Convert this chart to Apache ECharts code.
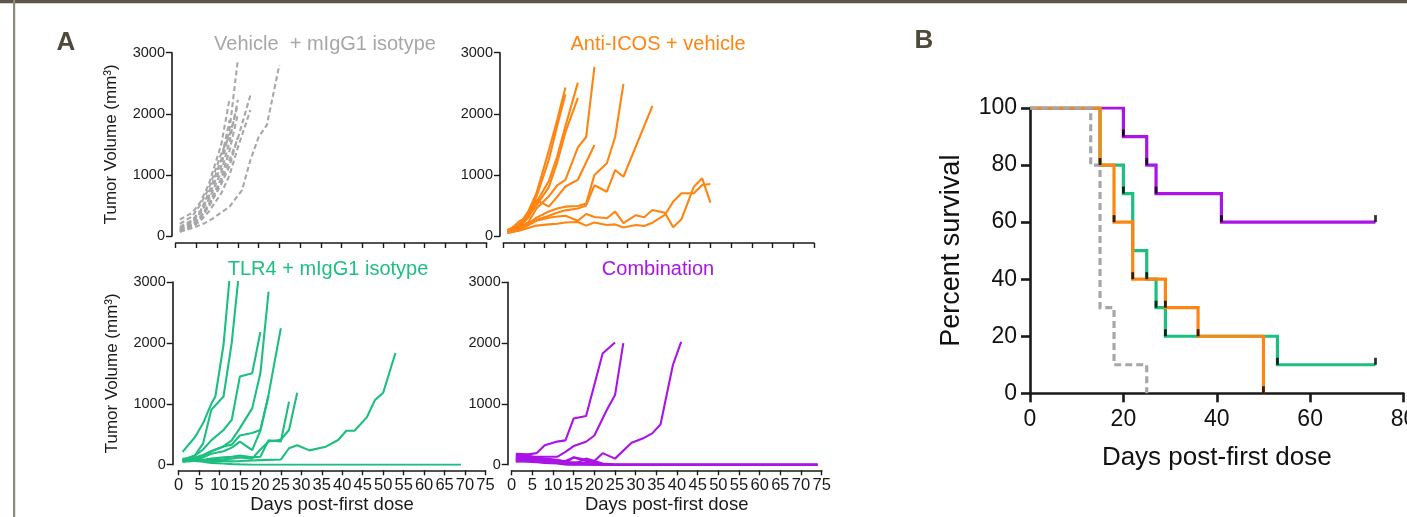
<!DOCTYPE html>
<html><head><meta charset="utf-8">
<script src="https://cdn.jsdelivr.net/npm/echarts@6/dist/echarts.min.js"></script>
<style>html,body{margin:0;padding:0;background:#fff;}#c{width:1407px;height:517px;}</style>
</head><body><div id="c"></div>
<script>
const FONT = 'Liberation Sans, Arial, Helvetica, sans-serif';
const panelTitles = ['Vehicle  + mIgG1 isotype', 'Anti-ICOS + vehicle', 'TLR4 + mIgG1 isotype', 'Combination'];
const groupColors = ['#a7a7a9', '#ff8512', '#1cbf80', '#aa14e6'];
const growthYName = 'Tumor Volume (mm³)';
const growthXName = 'Days post-first dose';
const survYName = 'Percent survival';
const survXName = 'Days post-first dose';

// Tumour growth per mouse: [day, volume mm3]
const vehicleCurves = [
  [[1,150],[4,260],[6,420],[8,650],[11,1150],[13,1750],[15,2890]],
  [[1,110],[4,220],[6,380],[8,600],[11,1050],[13,1550],[15,2230]],
  [[1,270],[4,380],[6,560],[8,850],[11,1500],[13,2250]],
  [[1,90],[4,190],[6,320],[8,520],[11,950],[13,1400],[15,2000]],
  [[1,130],[4,240],[6,400],[8,720],[11,1250],[13,1900]],
  [[1,70],[4,160],[6,290],[8,480],[11,850],[13,1150],[15,1620]],
  [[1,200],[4,320],[6,520],[8,780],[11,1350],[13,1650],[15,2150]],
  [[1,100],[4,180],[6,310],[8,500],[11,900],[13,1250],[15,1600],[18,2300]],
  [[1,80],[4,150],[6,250],[8,400],[11,700],[13,1000],[15,1450],[18,2060]],
  [[1,70],[4,130],[7,210],[9,290],[13,480],[16,750],[18,1240],[20,1620],[22,1820],[25,2800]]
];
const icosCurves = [
  [[1,80],[4,200],[6,400],[8,700],[11,1400],[13,1900],[15,2430]],
  [[1,100],[4,180],[6,350],[8,640],[11,1250],[13,1800],[15,2320]],
  [[1,70],[4,150],[6,300],[8,550],[11,900],[13,1300],[15,1800],[18,2510]],
  [[1,90],[4,200],[6,320],[8,500],[11,800],[13,1200],[15,1700],[18,2260]],
  [[1,80],[4,150],[6,220],[8,450],[11,650],[13,830],[15,920],[18,1450],[20,1620],[22,2770]],
  [[1,60],[4,250],[6,300],[8,590],[11,480],[13,640],[15,810],[18,920],[22,1490]],
  [[1,60],[4,120],[6,200],[8,300],[11,400],[13,450],[15,480],[18,490],[20,530],[22,1000],[25,1190],[27,1620],[29,2490]],
  [[1,50],[4,100],[6,180],[8,260],[11,330],[13,380],[15,420],[18,450],[20,500],[22,830],[25,725],[27,1080],[29,970],[36,2130]],
  [[1,60],[4,120],[6,180],[8,250],[11,300],[13,320],[15,330],[18,250],[20,360],[22,310],[25,290],[27,400],[29,210],[32,340],[34,306],[36,425],[39,380],[41,142],[43,273],[46,807],[48,944],[50,545]],
  [[1,50],[4,90],[6,130],[8,170],[11,190],[13,200],[15,220],[18,230],[20,170],[22,220],[25,180],[27,190],[29,140],[32,180],[34,163],[36,218],[39,344],[41,561],[43,699],[46,699],[48,835],[50,851]]
];
const tlr4Curves = [
  [[1,210],[4,450],[6,680],[8,1000],[9,1120],[11,1970],[13,3450]],
  [[1,60],[4,150],[6,350],[8,900],[11,1120],[13,2000],[15,3300]],
  [[1,80],[4,150],[6,250],[8,400],[11,570],[13,735],[15,1450],[18,1500],[20,2180]],
  [[1,60],[4,100],[6,150],[8,220],[11,300],[13,400],[15,600],[18,925],[20,1500],[22,2840]],
  [[1,50],[4,80],[6,120],[8,180],[11,220],[13,280],[15,380],[18,240],[20,560],[22,1150],[25,2240]],
  [[1,90],[4,120],[6,160],[8,220],[11,300],[13,330],[15,480],[18,520],[20,570],[22,1130]],
  [[1,60],[4,70],[6,80],[8,100],[11,120],[13,130],[15,150],[18,120],[20,130],[22,400],[25,380],[27,1035]],
  [[1,50],[4,60],[6,70],[8,80],[11,90],[13,100],[15,120],[18,100],[20,250],[22,380],[25,410],[27,570],[29,1180]],
  [[1,100],[4,80],[6,70],[8,60],[11,60],[13,55],[15,60],[18,70],[20,75],[22,80],[25,85],[27,270],[29,320],[32,235],[36,296],[39,405],[41,558],[43,558],[46,777],[48,1062],[50,1182],[53,1835]],
  [[1,80],[4,60],[6,50],[8,30],[11,20],[13,10],[15,5],[18,0],[20,0],[25,0],[30,0],[40,0],[50,0],[60,0],[69,0]]
];
const comboCurves = [
  [[1,180],[4,170],[6,190],[8,320],[11,380],[13,400],[15,760],[18,800],[22,1830],[25,2010]],
  [[1,130],[4,130],[6,130],[8,130],[11,130],[13,210],[15,307],[18,378],[20,480],[23,900],[25,1145],[27,2000]],
  [[1,100],[4,100],[6,90],[8,80],[11,70],[13,60],[15,120],[18,80],[20,60],[22,190],[25,100],[29,360],[32,440],[34,515],[36,660],[39,1640],[41,2020]],
  [[1,160],[4,150],[6,120],[8,100],[11,80],[13,50],[15,20],[18,10],[20,0],[30,0],[50,0],[74,0]],
  [[1,120],[4,100],[6,90],[8,70],[11,50],[13,30],[15,120],[18,60],[20,40],[22,10],[25,0],[50,0],[74,0]],
  [[1,90],[4,80],[6,70],[8,60],[11,40],[13,20],[15,10],[18,100],[20,60],[22,20],[25,0],[50,0],[74,0]],
  [[1,60],[4,50],[6,40],[8,30],[11,20],[13,10],[15,0],[50,0],[74,0]],
  [[1,50],[4,60],[6,50],[8,40],[11,30],[13,0],[50,0],[74,0]],
  [[1,140],[4,120],[6,100],[8,80],[11,60],[13,40],[15,30],[18,20],[20,10],[22,0],[50,0],[74,0]],
  [[1,80],[4,70],[6,60],[8,50],[11,40],[13,30],[15,40],[18,30],[20,20]]
];

// Kaplan-Meier survival: [day, percent]
const survVehicle = [[0,100],[13,80],[15,30],[18,10],[25,0]];
const survICOS = [[0,100],[15,80],[18,60],[22,40],[29,30],[36,20],[50,0]];
const survTLR4 = [[0,100],[15,80],[20,70],[22,50],[25,40],[27,30],[29,20],[53,10],[74,10]];
const survCombo = [[0,100],[20,90],[25,80],[27,70],[41,60],[74,60]];
const marksICOS = [[15,80],[18,60],[22,40],[29,30],[36,20],[50,0]];
const marksTLR4 = [[20,70],[25,40],[27,30],[29,20],[53,10],[74,10]];
const marksCombo = [[20,90],[25,80],[27,70],[41,60],[74,60]];

const growthY = {min: 0, max: 3000, interval: 1000};
const growthX = {min: 0, max: 75, interval: 5};
const survY = {min: 0, max: 100, interval: 20};
const survX = {min: 0, max: 80, interval: 20};

const chart = echarts.init(document.getElementById('c'), null, {renderer: 'canvas'});

const grids = [
  {left: 175.7, top: 52.7, width: 311, height: 183.3},
  {left: 503.3, top: 52.7, width: 310.7, height: 183.3},
  {left: 178.5, top: 282, width: 307, height: 182.7},
  {left: 511.7, top: 282.3, width: 310, height: 182.4},
  {left: 1030, top: 108, width: 373.5, height: 285.3}
].map(g => Object.assign({containLabel: false, outerBoundsMode: 'none'}, g));

const axisCol = '#1a1a1a';
const plain = v => String(v);
function gx(i, showLabels, xOff) {
  return Object.assign({
    type: 'value', gridIndex: i, offset: xOff,
    axisLine: {show: true, onZero: false, lineStyle: {color: axisCol, width: 1.6}},
    axisTick: {show: true, length: 5, lineStyle: {color: axisCol, width: 1.4}},
    splitLine: {show: false},
    axisLabel: {show: showLabels, interval: 0, margin: 7, hideOverlap: false, formatter: plain, color: '#1a1a1a', fontFamily: FONT, fontSize: 16.5},
    name: showLabels ? growthXName : '', nameLocation: 'middle', nameGap: 25,
    nameTextStyle: {fontFamily: FONT, fontSize: 18.5, color: '#1a1a1a'}
  }, growthX);
}
function gy(i, showName, yOff) {
  return Object.assign({
    type: 'value', gridIndex: i, offset: yOff,
    axisLine: {show: true, onZero: false, lineStyle: {color: axisCol, width: 1.6}},
    axisTick: {show: true, length: 6, lineStyle: {color: axisCol, width: 1.4}},
    splitLine: {show: false},
    axisLabel: {show: true, margin: 7, formatter: plain, color: '#1a1a1a', fontFamily: FONT, fontSize: 14.5},
    name: showName ? growthYName : '', nameLocation: 'middle', nameGap: 52,
    nameTextStyle: {fontFamily: FONT, fontSize: 17, color: '#1a1a1a'}
  }, growthY);
}

const xAxes = [gx(0, false, 7), gx(1, false, 7), gx(2, true, 5.6), gx(3, true, 5.6),
  Object.assign({
    type: 'value', gridIndex: 4,
    axisLine: {show: true, onZero: false, lineStyle: {color: axisCol, width: 2.6}},
    axisTick: {show: true, length: 9, lineStyle: {color: axisCol, width: 2.6}},
    splitLine: {show: false},
    axisLabel: {show: true, margin: 15, formatter: plain, color: '#111', fontFamily: FONT, fontSize: 23},
    name: survXName, nameLocation: 'middle', nameGap: 52,
    nameTextStyle: {fontFamily: FONT, fontSize: 26, color: '#111'}
  }, survX)];
const yAxes = [gy(0, true, 3.7), gy(1, false, 3.3), gy(2, true, 5.8), gy(3, false, 4),
  Object.assign({
    type: 'value', gridIndex: 4,
    axisLine: {show: true, onZero: false, lineStyle: {color: axisCol, width: 2.6}},
    axisTick: {show: true, length: 9, lineStyle: {color: axisCol, width: 2.6}},
    splitLine: {show: false},
    axisLabel: {show: true, margin: 13, formatter: plain, color: '#111', fontFamily: FONT, fontSize: 23},
    name: survYName, nameLocation: 'middle', nameGap: 65,
    nameTextStyle: {fontFamily: FONT, fontSize: 27, color: '#111'}
  }, survY)];

const series = [];
[vehicleCurves, icosCurves, tlr4Curves, comboCurves].forEach((group, gi) => {
  group.forEach(curve => {
    series.push({
      type: 'line', xAxisIndex: gi, yAxisIndex: gi, data: curve,
      showSymbol: false, symbol: 'none', clip: true, silent: true, animation: false,
      lineStyle: {color: groupColors[gi], width: 2.1, type: gi === 0 ? [5, 3] : 'solid'}
    });
  });
});

function survLine(data, color, dashed) {
  return {
    type: 'line', xAxisIndex: 4, yAxisIndex: 4, data: data, step: 'end',
    showSymbol: false, symbol: 'none', silent: true, animation: false,
    lineStyle: {color: color, width: 3.2, type: dashed ? [7, 4] : 'solid', cap: 'butt', join: 'miter'}
  };
}
series.push(survLine(survCombo, groupColors[3]));
series.push(survLine(survTLR4, groupColors[2]));
series.push(survLine(survICOS, groupColors[1]));
series.push(survLine(survVehicle, groupColors[0], true));
[marksCombo, marksTLR4, marksICOS].forEach(m => series.push({
  type: 'scatter', xAxisIndex: 4, yAxisIndex: 4, data: m, symbol: 'rect',
  symbolSize: [2.8, 7], symbolOffset: [0, -3.5], itemStyle: {color: '#000'},
  silent: true, animation: false, z: 5
}));

const titleCenters = [[325, 44], [658, 44], [328, 269], [658, 269]];
const graphics = [
  {type: 'rect', shape: {x: 0, y: 0, width: 1407, height: 3.3}, style: {fill: '#5b5647'}, silent: true},
  {type: 'rect', shape: {x: 13, y: 0, width: 2.2, height: 517}, style: {fill: '#8c887c'}, silent: true},
  {type: 'text', x: 66, y: 42.5, style: {text: 'A', font: 'bold 26px ' + FONT, fill: '#4e4a3b', align: 'center', verticalAlign: 'middle'}, silent: true},
  {type: 'text', x: 924, y: 41, style: {text: 'B', font: 'bold 26px ' + FONT, fill: '#4e4a3b', align: 'center', verticalAlign: 'middle'}, silent: true}
];
panelTitles.forEach((t, i) => graphics.push({
  type: 'text', x: titleCenters[i][0], y: titleCenters[i][1],
  style: {text: t, font: '20px ' + FONT, fill: groupColors[i], align: 'center', verticalAlign: 'middle'}, silent: true
}));

chart.setOption({
  animation: false,
  backgroundColor: '#ffffff',
  grid: grids,
  xAxis: xAxes,
  yAxis: yAxes,
  series: series,
  graphic: graphics
});
</script></body></html>
